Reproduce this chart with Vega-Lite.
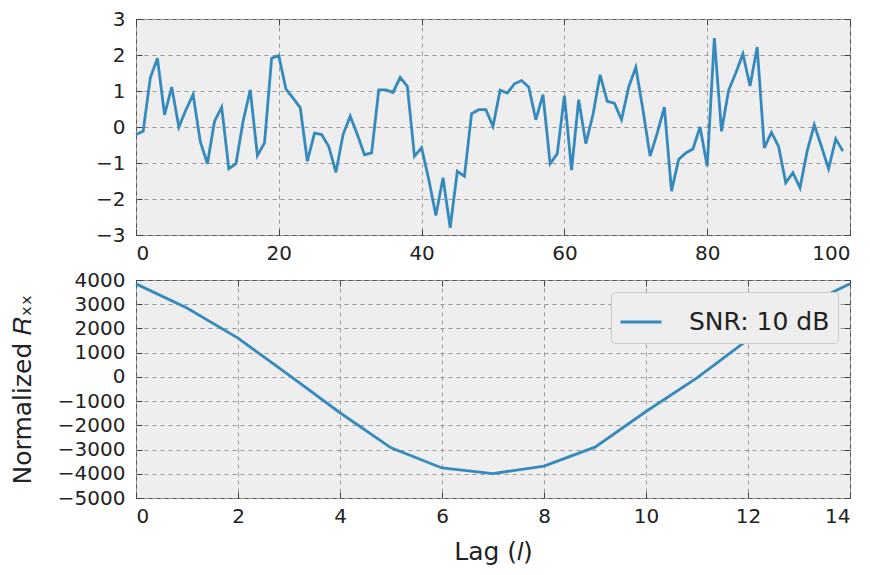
{
  "$schema": "https://vega.github.io/schema/vega-lite/v6.json",
  "padding": {"left": 9, "top": 8, "right": 15, "bottom": 5},
  "spacing": 5,
  "resolve": {"legend": {"color": "independent"}},
  "config": {
    "font": "DejaVu Sans",
    "view": {"stroke": "#555555", "fill": "#eeeeee", "strokeWidth": 1},
    "axis": {
      "labelFont": "DejaVu Sans", "labelFontSize": 20, "labelColor": "#222222", "format": "d",
      "domain": false, "ticks": true, "tickColor": "#444444", "tickSize": -6, "labelPadding": 14,
      "grid": true, "gridColor": "#999999", "gridDash": [4, 4], "gridWidth": 1,
      "titleFont": "DejaVu Sans", "titleFontSize": 25, "titleFontWeight": "normal", "titleColor": "#222222"
    },
    "axisY": {"labelPadding": 17},
    "legend": {
      "labelFont": "DejaVu Sans", "labelFontSize": 25, "labelColor": "#222222",
      "fillColor": "#eeeeee", "strokeColor": "#cccccc", "cornerRadius": 4, "padding": 8
    }
  },
  "vconcat": [
    {
      "width": 714, "height": 216,
      "data": {"values": [
        {"i":0,"v":-0.21},{"i":1,"v":-0.12},{"i":2,"v":1.36},{"i":3,"v":1.91},{"i":4,"v":0.34},
        {"i":5,"v":1.11},{"i":6,"v":0.0},{"i":7,"v":0.48},{"i":8,"v":0.9},{"i":9,"v":-0.4},
        {"i":10,"v":-1.02},{"i":11,"v":0.16},{"i":12,"v":0.55},{"i":13,"v":-1.16},{"i":14,"v":-1.02},
        {"i":15,"v":0.16},{"i":16,"v":1.03},{"i":17,"v":-0.79},{"i":18,"v":-0.44},{"i":19,"v":1.91},
        {"i":20,"v":1.98},{"i":21,"v":1.05},{"i":22,"v":0.8},{"i":23,"v":0.54},{"i":24,"v":-0.95},
        {"i":25,"v":-0.17},{"i":26,"v":-0.21},{"i":27,"v":-0.54},{"i":28,"v":-1.26},{"i":29,"v":-0.21},
        {"i":30,"v":0.3},{"i":31,"v":-0.21},{"i":32,"v":-0.77},{"i":33,"v":-0.72},{"i":34,"v":1.03},
        {"i":35,"v":1.03},{"i":36,"v":0.96},{"i":37,"v":1.38},{"i":38,"v":1.13},{"i":39,"v":-0.81},
        {"i":40,"v":-0.58},{"i":41,"v":-1.46},{"i":42,"v":-2.46},{"i":43,"v":-1.41},{"i":44,"v":-2.8},
        {"i":45,"v":-1.23},{"i":46,"v":-1.37},{"i":47,"v":0.37},{"i":48,"v":0.48},{"i":49,"v":0.48},
        {"i":50,"v":0.02},{"i":51,"v":1.02},{"i":52,"v":0.94},{"i":53,"v":1.2},{"i":54,"v":1.29},
        {"i":55,"v":1.11},{"i":56,"v":0.2},{"i":57,"v":0.9},{"i":58,"v":-1.02},{"i":59,"v":-0.74},
        {"i":60,"v":0.87},{"i":61,"v":-1.2},{"i":62,"v":0.76},{"i":63,"v":-0.46},{"i":64,"v":0.34},
        {"i":65,"v":1.45},{"i":66,"v":0.71},{"i":67,"v":0.66},{"i":68,"v":0.2},{"i":69,"v":1.11},
        {"i":70,"v":1.66},{"i":71,"v":0.48},{"i":72,"v":-0.81},{"i":73,"v":-0.17},{"i":74,"v":0.55},
        {"i":75,"v":-1.78},{"i":76,"v":-0.9},{"i":77,"v":-0.72},{"i":78,"v":-0.61},{"i":79,"v":0.0},
        {"i":80,"v":-1.09},{"i":81,"v":2.47},{"i":82,"v":-0.12},{"i":83,"v":1.02},{"i":84,"v":1.5},
        {"i":85,"v":2.03},{"i":86,"v":1.14},{"i":87,"v":2.22},{"i":88,"v":-0.58},{"i":89,"v":-0.15},
        {"i":90,"v":-0.54},{"i":91,"v":-1.55},{"i":92,"v":-1.27},{"i":93,"v":-1.69},{"i":94,"v":-0.67},
        {"i":95,"v":0.06},{"i":96,"v":-0.54},{"i":97,"v":-1.16},{"i":98,"v":-0.33},{"i":99,"v":-0.67}
      ]},
      "layer": [
        {
          "mark": {"type": "line", "color": "#348ABD", "strokeWidth": 2.8},
          "encoding": {
            "x": {"field": "i", "type": "quantitative", "scale": {"domain": [0, 100], "nice": false},
                  "axis": {"values": [0, 20, 40, 60, 80, 100], "title": null}},
            "y": {"field": "v", "type": "quantitative", "scale": {"domain": [-3, 3], "nice": false},
                  "axis": {"values": [-3, -2, -1, 0, 1, 2, 3], "title": null}}
          }
        },
        {
          "mark": {"type": "line", "opacity": 0},
          "encoding": {
            "x": {"field": "i", "type": "quantitative",
                  "axis": {"orient": "top", "labels": false, "grid": false, "values": [0, 20, 40, 60, 80, 100], "title": null}},
            "y": {"field": "v", "type": "quantitative",
                  "axis": {"orient": "right", "labels": false, "grid": false, "values": [-3, -2, -1, 0, 1, 2, 3], "title": null}}
          }
        }
      ],
      "resolve": {"axis": {"x": "independent", "y": "independent"}}
    },
    {
      "width": 714, "height": 218,
      "data": {"values": [
        {"lag":0,"r":3840,"s":"SNR: 10 dB"},{"lag":1,"r":2840,"s":"SNR: 10 dB"},
        {"lag":2,"r":1600,"s":"SNR: 10 dB"},{"lag":3,"r":70,"s":"SNR: 10 dB"},
        {"lag":4,"r":-1480,"s":"SNR: 10 dB"},{"lag":5,"r":-2930,"s":"SNR: 10 dB"},
        {"lag":6,"r":-3760,"s":"SNR: 10 dB"},{"lag":7,"r":-3990,"s":"SNR: 10 dB"},
        {"lag":8,"r":-3680,"s":"SNR: 10 dB"},{"lag":9,"r":-2900,"s":"SNR: 10 dB"},
        {"lag":10,"r":-1430,"s":"SNR: 10 dB"},{"lag":11,"r":-40,"s":"SNR: 10 dB"},
        {"lag":12,"r":1540,"s":"SNR: 10 dB"},{"lag":13,"r":2820,"s":"SNR: 10 dB"},
        {"lag":14,"r":3850,"s":"SNR: 10 dB"}
      ]},
      "layer": [
        {
          "mark": {"type": "line", "strokeWidth": 2.8},
          "encoding": {
            "x": {"field": "lag", "type": "quantitative", "scale": {"domain": [0, 14], "nice": false},
                  "axis": {"values": [0, 2, 4, 6, 8, 10, 12, 14], "title": "Lag (𝑙)", "titlePadding": 13}},
            "y": {"field": "r", "type": "quantitative", "scale": {"domain": [-5000, 4000], "nice": false},
                  "axis": {"values": [-5000, -4000, -3000, -2000, -1000, 0, 1000, 2000, 3000, 4000], "title": "Normalized 𝑅ₓₓ", "titlePadding": 22}},
            "color": {"field": "s", "type": "nominal", "scale": {"range": ["#348ABD"]},
                      "legend": {"title": null, "orient": "top-right", "offset": 12, "symbolType": "stroke",
                                 "symbolSize": 1681, "symbolStrokeWidth": 3, "labelOffset": 26}}
          }
        },
        {
          "mark": {"type": "line", "opacity": 0},
          "encoding": {
            "x": {"field": "lag", "type": "quantitative",
                  "axis": {"orient": "top", "labels": false, "grid": false, "values": [0, 2, 4, 6, 8, 10, 12, 14], "title": null}},
            "y": {"field": "r", "type": "quantitative",
                  "axis": {"orient": "right", "labels": false, "grid": false, "values": [-5000, -4000, -3000, -2000, -1000, 0, 1000, 2000, 3000, 4000], "title": null}}
          }
        }
      ],
      "resolve": {"axis": {"x": "independent", "y": "independent"}}
    }
  ]
}
